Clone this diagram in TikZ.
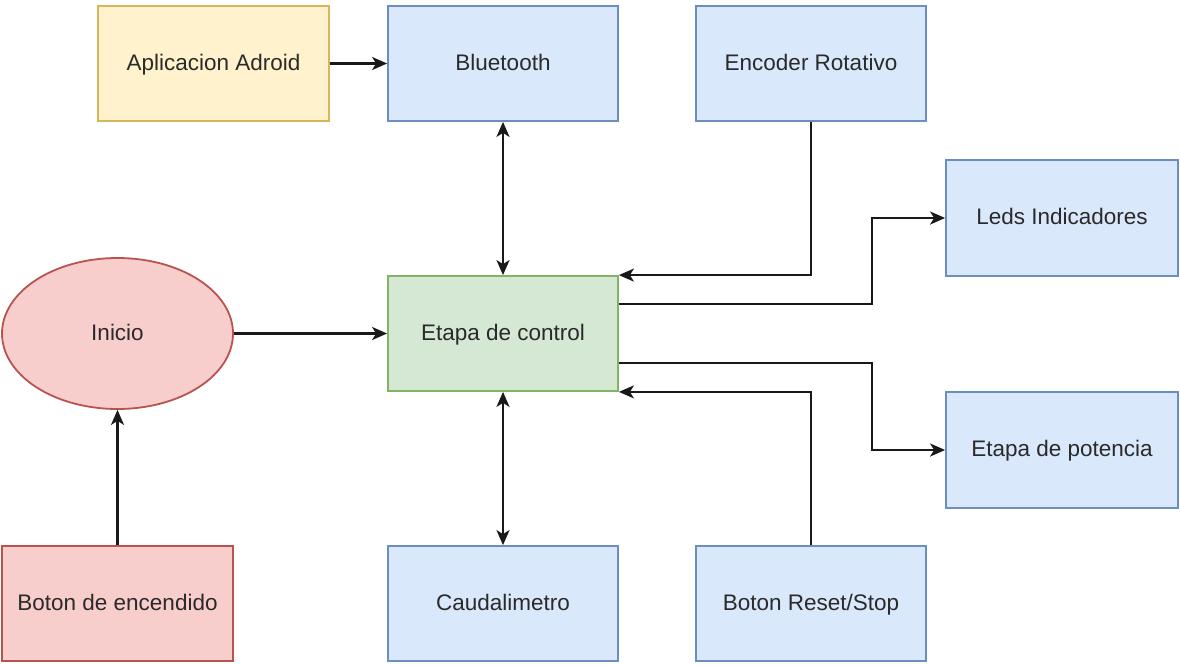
\documentclass[tikz,border=0pt]{standalone}
\usepackage{fontspec}
\setmainfont{Liberation Sans}
\usetikzlibrary{arrows.meta,shapes.geometric,calc}
\definecolor{bluefill}{HTML}{DAE8FC}
\definecolor{bluedraw}{HTML}{6C8EBF}
\definecolor{greenfill}{HTML}{D5E8D4}
\definecolor{greendraw}{HTML}{82B366}
\definecolor{yellowfill}{HTML}{FFF2CC}
\definecolor{yellowdraw}{HTML}{D6B656}
\definecolor{redfill}{HTML}{F8CECC}
\definecolor{reddraw}{HTML}{B85450}
\definecolor{txt}{HTML}{2A2A2A}
\tikzset{
  label text/.style={text=txt, font=\fontsize{22.5}{27}\selectfont, text height=18pt, text depth=4.5pt},
  block/.style={rectangle, line width=1.8pt, minimum width=230pt, minimum height=115pt,
    inner sep=0pt, label text},
  blue/.style={block, fill=bluefill, draw=bluedraw},
  wire/.style={line width=2.1pt, draw=black!90, -{Stealth[length=15pt,width=13pt,inset=4pt]}},
  dwire/.style={line width=2.1pt, draw=black!90, {Stealth[length=15pt,width=13pt,inset=4pt]}-{Stealth[length=15pt,width=13pt,inset=4pt]}},
}
\begin{document}
\begin{tikzpicture}[x=1pt,y=-1pt]
\useasboundingbox (0,0) rectangle (1180,664);
% blocks
\node[block, fill=yellowfill, draw=yellowdraw, minimum width=231pt] (app) at (213.5,63.5) {Aplicacion Adroid};
\node[blue] (bt) at (503,63.5) {Bluetooth};
\node[blue] (enc) at (811,63.5) {Encoder Rotativo};
\node[blue, minimum width=232pt, minimum height=116pt] (leds) at (1062,218) {Leds Indicadores};
\node[block, fill=greenfill, draw=greendraw] (ctrl) at (503,333.5) {Etapa de control};
\node[blue, minimum width=232pt, minimum height=116pt] (pot) at (1062,450) {Etapa de potencia};
\node[ellipse, line width=1.8pt, fill=redfill, draw=reddraw, minimum width=231pt, minimum height=151pt,
  inner sep=0pt, label text] (ini) at (117.5,333.5) {Inicio};
\node[block, fill=redfill, draw=reddraw, minimum width=231pt] (btn) at (117.5,603.5) {Boton de encendido};
\node[blue] (caud) at (503,603.5) {Caudalimetro};
\node[blue] (reset) at (811,603.5) {Boton Reset/Stop};
% routing helpers
\coordinate (bendx) at (872,0);
\coordinate (ctrlA) at ($(ctrl.north east)!0.25!(ctrl.south east)$);
\coordinate (ctrlB) at ($(ctrl.north east)!0.75!(ctrl.south east)$);
% connectors
\draw[wire] (app.east) -- (bt.west);
\draw[dwire] (bt.south) -- (ctrl.north);
\draw[wire] (enc.south) |- (ctrl.north east);
\draw[wire] (ctrlA) -- (ctrlA -| bendx) |- (leds.west);
\draw[wire] (ctrlB) -- (ctrlB -| bendx) |- (pot.west);
\draw[wire] (reset.north) |- (ctrl.south east);
\draw[wire] (ini.east) -- (ctrl.west);
\draw[wire] (btn.north) -- (ini.south);
\draw[dwire] (ctrl.south) -- (caud.north);
\end{tikzpicture}
\end{document}
